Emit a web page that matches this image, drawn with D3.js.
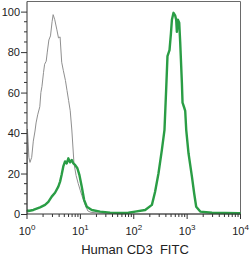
<!DOCTYPE html>
<html>
<head>
<meta charset="utf-8">
<script src="https://cdn.jsdelivr.net/npm/d3@7"></script>
<style>
  html, body { margin: 0; padding: 0; background: #fff; }
  text { font-family: "Liberation Sans", Arial, sans-serif; fill: #222; }
</style>
</head>
<body>
<div id="chart"></div>
<script>
const width = 250, height = 259;

// isotype control (gray): x as log10 exponent, y as % of max
const grayExp = [0, 0.008, 0.02, 0.035, 0.056, 0.088, 0.118, 0.15, 0.17, 0.2, 0.24, 0.26, 0.28, 0.31, 0.33, 0.36, 0.38, 0.41, 0.44, 0.47, 0.49, 0.52, 0.56, 0.59, 0.62, 0.65, 0.68, 0.72, 0.75, 0.78, 0.81, 0.84, 0.88, 0.92, 0.96, 1.0, 1.03, 1.09, 1.14, 1.2, 1.35, 1.6, 2.0, 4.0];
const grayVal = [0, 42, 36, 28, 25.5, 28, 36, 41, 45, 49, 53, 60, 63, 70, 74, 75.5, 80, 86, 88, 95, 98.5, 96, 91, 87, 87.5, 75, 71, 66, 61, 56, 51, 41.5, 25, 19, 15, 11.5, 9, 4.5, 1.5, 0.8, 0.5, 0.2, 0, 0];

// anti-human CD3 FITC (green)
const greenExp = [0, 0.024, 0.118, 0.244, 0.338, 0.4, 0.463, 0.525, 0.587, 0.62, 0.65, 0.68, 0.713, 0.745, 0.775, 0.807, 0.839, 0.869, 0.9, 0.944, 0.98, 1.026, 1.07, 1.12, 1.214, 1.37, 1.557, 1.745, 1.9, 2.026, 2.214, 2.34, 2.4, 2.463, 2.527, 2.576, 2.608, 2.632, 2.651, 2.67, 2.696, 2.715, 2.745, 2.777, 2.795, 2.808, 2.827, 2.852, 2.87, 2.902, 2.914, 2.946, 2.964, 2.983, 3.026, 3.09, 3.133, 3.17, 3.246, 3.465, 3.964, 4.0];
const greenVal = [2, 1.5, 2, 3.3, 4.5, 6, 8.6, 10.5, 13.5, 16, 19.5, 23.5, 26, 25, 27.5, 25.5, 26.7, 25, 24.3, 22.6, 19.5, 13.5, 7, 3.6, 2, 1.2, 0.7, 0.5, 0.6, 1.2, 2, 4.5, 11, 20, 31.7, 41.6, 62, 78, 79.5, 81, 89, 96, 99.4, 98, 96, 90, 96, 94.5, 85, 64.7, 55, 52.5, 51, 41.6, 30, 18.5, 10, 3.6, 1.2, 0.6, 0.4, 0.4];

const yTicks = [0, 20, 40, 60, 80, 100];
const xDecades = [0, 1, 2, 3, 4];
const axisTitle = "Human CD3  FITC";

const svg = d3.select("#chart").append("svg")
  .attr("width", width).attr("height", height);

const x = d3.scaleLog().domain([1, 1e4]).range([27, 240.5]);
const y = d3.scaleLinear().domain([0, 105]).range([214, 1.5]);

// frame (top and right)
svg.append("path")
  .attr("d", `M${x(1)},${y(105)}H${x(1e4)}V${y(0)}`)
  .attr("fill", "none").attr("stroke", "#6a6a6a").attr("stroke-width", 1);

// curves
const line = d3.line().x(d => x(Math.pow(10, d[0]))).y(d => y(d[1]));
const gray = d3.zip(grayExp, grayVal);
const green = d3.zip(greenExp, greenVal);

svg.append("path").datum(gray)
  .attr("d", line).attr("fill", "none")
  .attr("stroke", "#8f8f8f").attr("stroke-width", 1);

svg.append("path").datum(green)
  .attr("d", line).attr("fill", "none")
  .attr("stroke", "#2a9d45").attr("stroke-width", 2.4)
  .attr("stroke-linejoin", "round");

// left axis
const yMinor = d3.range(0, 101, 5).filter(v => v % 20 !== 0);
const leftAxis = d3.axisLeft(y).tickValues(yTicks).tickSize(6).tickPadding(1).tickSizeOuter(0);
const gL = svg.append("g").attr("transform", `translate(${x(1)},0)`).call(leftAxis);
gL.selectAll(".domain").attr("d", `M0,${y(105)}V${y(0)}`);
gL.selectAll("text").attr("font-size", 11).attr("font-family", "Liberation Sans, Arial, sans-serif").attr("fill", "#222");
gL.selectAll(".minor").data(yMinor).join("line")
  .attr("class", "minor")
  .attr("x1", -3).attr("x2", 0)
  .attr("y1", d => y(d)).attr("y2", d => y(d))
  .attr("stroke", "currentColor");
gL.attr("color", "#333");

// bottom axis
const xMinor = [];
for (let e = 0; e < 4; e++) for (let m = 2; m <= 9; m++) xMinor.push(m * Math.pow(10, e));
const gB = svg.append("g").attr("transform", `translate(0,${y(0)})`).attr("color", "#333");
gB.append("line").attr("x1", x(1)).attr("x2", x(1e4)).attr("stroke", "currentColor");
gB.selectAll(".minor").data(xMinor).join("line")
  .attr("class", "minor")
  .attr("x1", d => x(d)).attr("x2", d => x(d))
  .attr("y1", 0).attr("y2", 3)
  .attr("stroke", "currentColor");
gB.selectAll(".major").data(xDecades).join("line")
  .attr("class", "major")
  .attr("x1", d => x(Math.pow(10, d))).attr("x2", d => x(Math.pow(10, d)))
  .attr("y1", 0).attr("y2", 5)
  .attr("stroke", "currentColor");

const labels = svg.append("g").selectAll("text").data(xDecades).join("text")
  .attr("x", d => x(Math.pow(10, d)))
  .attr("y", 235)
  .attr("text-anchor", "middle")
  .attr("font-size", 11);
labels.append("tspan").text("10");
labels.append("tspan").text(d => d).attr("font-size", 8).attr("dy", -5);

svg.append("text")
  .attr("x", 135).attr("y", 254)
  .attr("text-anchor", "middle")
  .attr("font-size", 13)
  .style("white-space", "pre")
  .text(axisTitle);
</script>
</body>
</html>
